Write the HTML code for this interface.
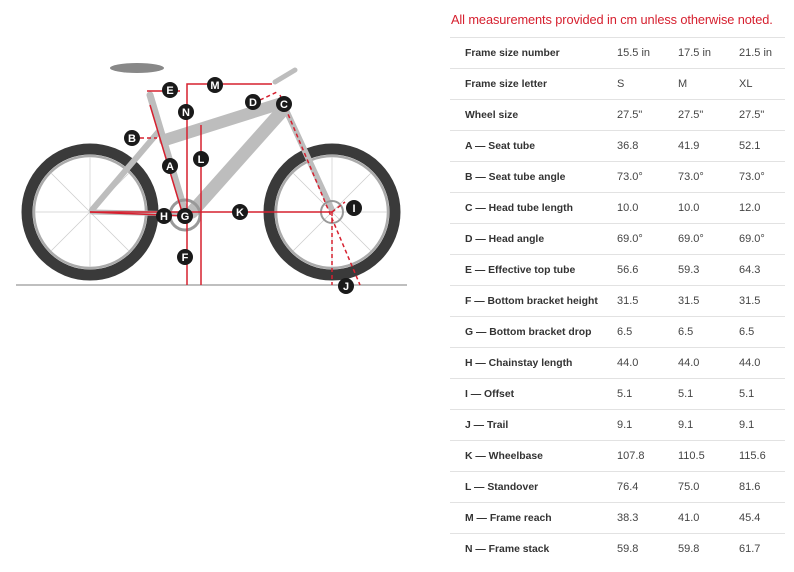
<!DOCTYPE html>
<html><head><style>
body{margin:0;width:794px;height:572px;background:#fff;font-family:"Liberation Sans",sans-serif;position:relative;overflow:hidden}
.hd{position:absolute;left:451px;top:12px;font-size:12.8px;color:#d6202f;letter-spacing:-0.1px}
table{position:absolute;left:450px;top:37px;width:335px;border-collapse:collapse;font-size:11px;color:#444}
td{height:30px;border-top:1px solid #e2e2e2;padding:0;vertical-align:middle}
td span{position:relative;top:1px}
td.l{padding-left:15px;font-weight:bold;color:#333;width:152px;font-size:10.4px}
td.c{width:61px}
</style></head><body>
<svg width="420" height="300" style="position:absolute;left:0;top:0">
<line x1="16" y1="285" x2="407" y2="285" stroke="#aaa" stroke-width="1.5"/>
<g fill="none">
<circle cx="90" cy="212" r="63" stroke="#3a3a3a" stroke-width="11"/>
<circle cx="90" cy="212" r="56" stroke="#aaa" stroke-width="2.5"/>
<circle cx="332" cy="212" r="63" stroke="#3a3a3a" stroke-width="11"/>
<circle cx="332" cy="212" r="56" stroke="#aaa" stroke-width="2.5"/>
</g>
<g stroke="#ccc" stroke-width="0.7">
<line x1="35" y1="212" x2="145" y2="212"/><line x1="90" y1="157" x2="90" y2="267"/><line x1="51" y1="173" x2="129" y2="251"/><line x1="51" y1="251" x2="129" y2="173"/>
<line x1="277" y1="212" x2="387" y2="212"/><line x1="332" y1="157" x2="332" y2="267"/><line x1="293" y1="173" x2="371" y2="251"/><line x1="293" y1="251" x2="371" y2="173"/>
</g>
<g stroke="#bdbdbd" stroke-linecap="round">
<line x1="165" y1="140" x2="282" y2="103" stroke-width="12"/>
<line x1="283" y1="110" x2="192" y2="212" stroke-width="13"/>
<line x1="150" y1="95" x2="185" y2="212" stroke-width="7"/>
<line x1="160" y1="130" x2="92" y2="210" stroke-width="6"/>
<line x1="185" y1="214" x2="92" y2="212" stroke-width="5"/>
<line x1="286" y1="110" x2="332" y2="210" stroke-width="6"/>
<line x1="275" y1="82" x2="295" y2="70" stroke-width="5"/>
</g>
<ellipse cx="137" cy="68" rx="27" ry="5" fill="#888"/>
<circle cx="185" cy="215" r="15" fill="none" stroke="#999" stroke-width="3"/>
<circle cx="332" cy="212" r="11" fill="none" stroke="#999" stroke-width="2"/>
<g stroke="#d6202f" stroke-width="1.5" fill="none">
<polyline points="187,285 187,84 272,84"/>
<line x1="147" y1="91" x2="180" y2="91"/>
<line x1="201" y1="125" x2="201" y2="285"/>
<line x1="90" y1="212" x2="332" y2="212"/>
<line x1="150" y1="105" x2="182" y2="212"/>
<line x1="90" y1="212" x2="185" y2="216"/>
<g stroke-dasharray="4,3"><line x1="140" y1="138" x2="157" y2="138"/><line x1="260" y1="100" x2="277" y2="92"/><line x1="280" y1="95" x2="360" y2="285"/><line x1="332" y1="212" x2="332" y2="285"/><line x1="332" y1="212" x2="345" y2="202"/></g>
</g>
<g font-size="11" font-weight="bold" fill="#fff" text-anchor="middle">
<g fill="#1a1a1a"><circle cx="170" cy="90" r="8"/><circle cx="215" cy="85" r="8"/><circle cx="253" cy="102" r="8"/><circle cx="284" cy="104" r="8"/><circle cx="186" cy="112" r="8"/><circle cx="132" cy="138" r="8"/><circle cx="201" cy="159" r="8"/><circle cx="170" cy="166" r="8"/><circle cx="164" cy="216" r="8"/><circle cx="185" cy="216" r="8"/><circle cx="240" cy="212" r="8"/><circle cx="354" cy="208" r="8"/><circle cx="185" cy="257" r="8"/><circle cx="346" cy="286" r="8"/></g>
<text x="170" y="94">E</text><text x="215" y="89">M</text><text x="253" y="106">D</text><text x="284" y="108">C</text><text x="186" y="116">N</text><text x="132" y="142">B</text><text x="201" y="163">L</text><text x="170" y="170">A</text><text x="164" y="220">H</text><text x="185" y="220">G</text><text x="240" y="216">K</text><text x="354" y="212">I</text><text x="185" y="261">F</text><text x="346" y="290">J</text>
</g>
</svg>
<div class="hd">All measurements provided in cm unless otherwise noted.</div>
<table>
<tr><td class="l">Frame size number</td><td class="c">15.5 in</td><td class="c">17.5 in</td><td>21.5 in</td></tr>
<tr><td class="l">Frame size letter</td><td class="c">S</td><td class="c">M</td><td>XL</td></tr>
<tr><td class="l">Wheel size</td><td class="c">27.5"</td><td class="c">27.5"</td><td>27.5"</td></tr>
<tr><td class="l">A — Seat tube</td><td class="c">36.8</td><td class="c">41.9</td><td>52.1</td></tr>
<tr><td class="l">B — Seat tube angle</td><td class="c">73.0°</td><td class="c">73.0°</td><td>73.0°</td></tr>
<tr><td class="l">C — Head tube length</td><td class="c">10.0</td><td class="c">10.0</td><td>12.0</td></tr>
<tr><td class="l">D — Head angle</td><td class="c">69.0°</td><td class="c">69.0°</td><td>69.0°</td></tr>
<tr><td class="l">E — Effective top tube</td><td class="c">56.6</td><td class="c">59.3</td><td>64.3</td></tr>
<tr><td class="l">F — Bottom bracket height</td><td class="c">31.5</td><td class="c">31.5</td><td>31.5</td></tr>
<tr><td class="l">G — Bottom bracket drop</td><td class="c">6.5</td><td class="c">6.5</td><td>6.5</td></tr>
<tr><td class="l">H — Chainstay length</td><td class="c">44.0</td><td class="c">44.0</td><td>44.0</td></tr>
<tr><td class="l">I — Offset</td><td class="c">5.1</td><td class="c">5.1</td><td>5.1</td></tr>
<tr><td class="l">J — Trail</td><td class="c">9.1</td><td class="c">9.1</td><td>9.1</td></tr>
<tr><td class="l">K — Wheelbase</td><td class="c">107.8</td><td class="c">110.5</td><td>115.6</td></tr>
<tr><td class="l">L — Standover</td><td class="c">76.4</td><td class="c">75.0</td><td>81.6</td></tr>
<tr><td class="l">M — Frame reach</td><td class="c">38.3</td><td class="c">41.0</td><td>45.4</td></tr>
<tr><td class="l">N — Frame stack</td><td class="c">59.8</td><td class="c">59.8</td><td>61.7</td></tr>
</table>
</body></html>
